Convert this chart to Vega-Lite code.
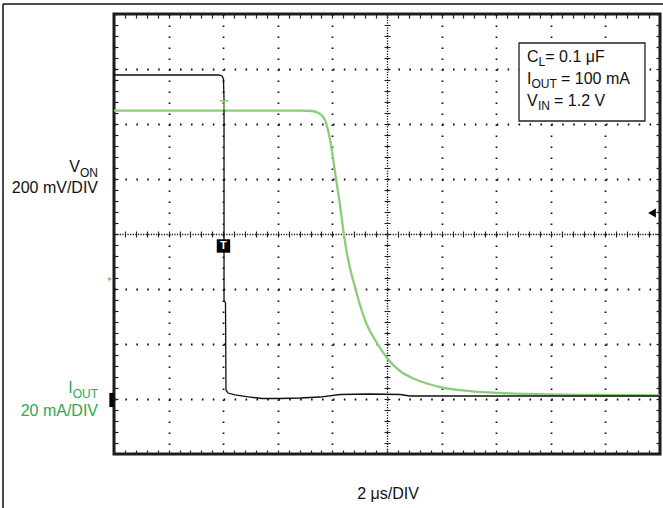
{
  "$schema": "https://vega.github.io/schema/vega-lite/v6.json",
  "width": 546,
  "height": 440,
  "autosize": {"type": "none"},
  "padding": {"left": 114, "top": 14, "right": 3, "bottom": 54},
  "background": "white",
  "config": {
    "view": {"stroke": "#1c1c1c", "strokeWidth": 3},
    "text": {"font": "Liberation Sans"}
  },
  "datasets": {
    "v_on": [
      {"t": 0, "v": 6.891}, {"t": 1.923, "v": 6.891}, {"t": 1.978, "v": 6.873}, {"t": 2.005, "v": 6.818},
      {"t": 2.015, "v": 6.436}, {"t": 2.015, "v": 2.8}, {"t": 2.042, "v": 2.745}, {"t": 2.051, "v": 1.164},
      {"t": 2.088, "v": 1.109}, {"t": 2.216, "v": 1.073}, {"t": 2.491, "v": 1.036}, {"t": 2.711, "v": 1.009},
      {"t": 3.04, "v": 1.009}, {"t": 3.407, "v": 1.018}, {"t": 3.773, "v": 1.036}, {"t": 4.139, "v": 1.082},
      {"t": 4.689, "v": 1.091}, {"t": 5.238, "v": 1.082}, {"t": 5.421, "v": 1.055}, {"t": 6.337, "v": 1.055},
      {"t": 7.436, "v": 1.055}, {"t": 8.535, "v": 1.055}, {"t": 10, "v": 1.055}
    ],
    "i_out": [
      {"t": 0, "v": 6.245}, {"t": 3.407, "v": 6.245}, {"t": 3.626, "v": 6.236}, {"t": 3.773, "v": 6.182},
      {"t": 3.864, "v": 6.073}, {"t": 3.919, "v": 5.891}, {"t": 3.974, "v": 5.618}, {"t": 4.029, "v": 5.255},
      {"t": 4.084, "v": 4.891}, {"t": 4.139, "v": 4.527}, {"t": 4.194, "v": 4.109}, {"t": 4.249, "v": 3.745},
      {"t": 4.322, "v": 3.382}, {"t": 4.414, "v": 3.036}, {"t": 4.505, "v": 2.709}, {"t": 4.634, "v": 2.345},
      {"t": 4.817, "v": 2.018}, {"t": 5.0, "v": 1.745}, {"t": 5.238, "v": 1.509}, {"t": 5.549, "v": 1.345},
      {"t": 5.971, "v": 1.218}, {"t": 6.52, "v": 1.145}, {"t": 7.07, "v": 1.109}, {"t": 7.985, "v": 1.082},
      {"t": 8.901, "v": 1.073}, {"t": 10, "v": 1.064}
    ],
    "txt": [
      {"x": 7.564, "y": 7.127, "s": "C", "k": "Lb", "c": "k"},
      {"x": 7.777, "y": 7.055, "s": "L", "k": "Ls", "c": "k"},
      {"x": 7.899, "y": 7.127, "s": "= 0.1 μF", "k": "Lb", "c": "k"},
      {"x": 7.564, "y": 6.727, "s": "I", "k": "Lb", "c": "k"},
      {"x": 7.646, "y": 6.655, "s": "OUT", "k": "Ls", "c": "k"},
      {"x": 8.187, "y": 6.727, "s": "= 100 mA", "k": "Lb", "c": "k"},
      {"x": 7.564, "y": 6.327, "s": "V", "k": "Lb", "c": "k"},
      {"x": 7.764, "y": 6.255, "s": "IN", "k": "Ls", "c": "k"},
      {"x": 8.06, "y": 6.327, "s": "= 1.2 V", "k": "Lb", "c": "k"},
      {"x": -0.623, "y": 5.127, "s": "V", "k": "Rb", "c": "k"},
      {"x": -0.293, "y": 5.045, "s": "ON", "k": "Rs", "c": "k"},
      {"x": -0.293, "y": 4.745, "s": "200 mV/DIV", "k": "Rb", "c": "k"},
      {"x": -0.758, "y": 1.109, "s": "I", "k": "Rb", "c": "g"},
      {"x": -0.293, "y": 1.027, "s": "OUT", "k": "Rs", "c": "g"},
      {"x": -0.293, "y": 0.691, "s": "20 mA/DIV", "k": "Rb", "c": "g"},
      {"x": 5.018, "y": -0.818, "s": "2 μs/DIV", "k": "C", "c": "k"}
    ]
  },
  "resolve": {"axis": {"x": "independent", "y": "independent"}},
  "layer": [
    {
      "data": {"name": "v_on"},
      "mark": {"type": "line", "opacity": 0},
      "encoding": {
        "x": {"field": "t", "type": "quantitative", "scale": {"domain": [0, 10], "nice": false, "zero": false},
              "axis": {"orient": "bottom", "values": [1, 2, 3, 4, 6, 7, 8, 9], "grid": true, "gridDash": [1.6, 9.4], "gridColor": "#111", "gridWidth": 1.8, "ticks": false, "labels": false, "domain": false, "title": null}},
        "y": {"field": "v", "type": "quantitative", "scale": {"domain": [0, 8], "nice": false, "zero": false},
              "axis": {"orient": "left", "values": [1, 2, 3, 5, 6, 7], "grid": true, "gridDash": [1.6, 9.32], "gridColor": "#111", "gridWidth": 1.8, "ticks": false, "labels": false, "domain": false, "title": null}}
      }
    },
    {
      "data": {"name": "v_on"},
      "mark": {"type": "line", "opacity": 0},
      "encoding": {
        "x": {"field": "t", "type": "quantitative", "scale": {"domain": [0, 10], "nice": false, "zero": false},
              "axis": {"orient": "bottom", "values": [5], "grid": true, "gridDash": [1.2, 1.4], "gridColor": "#111", "gridWidth": 1.3, "ticks": false, "labels": false, "domain": false, "title": null}},
        "y": {"field": "v", "type": "quantitative", "scale": {"domain": [0, 8], "nice": false, "zero": false},
              "axis": {"orient": "left", "values": [4], "grid": true, "gridDash": [1.2, 1.4], "gridColor": "#111", "gridWidth": 1.3, "ticks": false, "labels": false, "domain": false, "title": null}}
      }
    },
    {
      "data": {"name": "v_on"},
      "mark": {"type": "line", "opacity": 0},
      "encoding": {
        "x": {"field": "t", "type": "quantitative", "scale": {"domain": [0, 10], "nice": false, "zero": false},
              "axis": {"orient": "bottom", "values": [0,0.2,0.4,0.6,0.8,1,1.2,1.4,1.6,1.8,2,2.2,2.4,2.6,2.8,3,3.2,3.4,3.6,3.8,4,4.2,4.4,4.6,4.8,5,5.2,5.4,5.6,5.8,6,6.2,6.4,6.6,6.8,7,7.2,7.4,7.6,7.8,8,8.2,8.4,8.6,8.8,9,9.2,9.4,9.6,9.8,10], "grid": false, "ticks": true, "tickSize": -4, "tickColor": "#222", "tickWidth": 1.2, "labels": false, "domain": false, "title": null}},
        "y": {"field": "v", "type": "quantitative", "scale": {"domain": [0, 8], "nice": false, "zero": false},
              "axis": {"orient": "left", "values": [0,0.2,0.4,0.6,0.8,1,1.2,1.4,1.6,1.8,2,2.2,2.4,2.6,2.8,3,3.2,3.4,3.6,3.8,4,4.2,4.4,4.6,4.8,5,5.2,5.4,5.6,5.8,6,6.2,6.4,6.6,6.8,7,7.2,7.4,7.6,7.8,8], "grid": false, "ticks": true, "tickSize": -4, "tickColor": "#222", "tickWidth": 1.2, "labels": false, "domain": false, "title": null}}
      }
    },
    {
      "data": {"name": "v_on"},
      "mark": {"type": "line", "opacity": 0},
      "encoding": {
        "x": {"field": "t", "type": "quantitative", "scale": {"domain": [0, 10], "nice": false, "zero": false},
              "axis": {"orient": "top", "values": [0,0.2,0.4,0.6,0.8,1,1.2,1.4,1.6,1.8,2,2.2,2.4,2.6,2.8,3,3.2,3.4,3.6,3.8,4,4.2,4.4,4.6,4.8,5,5.2,5.4,5.6,5.8,6,6.2,6.4,6.6,6.8,7,7.2,7.4,7.6,7.8,8,8.2,8.4,8.6,8.8,9,9.2,9.4,9.6,9.8,10], "grid": false, "ticks": true, "tickSize": -4, "tickColor": "#222", "tickWidth": 1.2, "labels": false, "domain": false, "title": null}},
        "y": {"field": "v", "type": "quantitative", "scale": {"domain": [0, 8], "nice": false, "zero": false},
              "axis": {"orient": "right", "values": [0,0.2,0.4,0.6,0.8,1,1.2,1.4,1.6,1.8,2,2.2,2.4,2.6,2.8,3,3.2,3.4,3.6,3.8,4,4.2,4.4,4.6,4.8,5,5.2,5.4,5.6,5.8,6,6.2,6.4,6.6,6.8,7,7.2,7.4,7.6,7.8,8], "grid": false, "ticks": true, "tickSize": -4, "tickColor": "#222", "tickWidth": 1.2, "labels": false, "domain": false, "title": null}}
      }
    },
    {
      "data": {"name": "v_on"},
      "mark": {"type": "line", "opacity": 0},
      "encoding": {
        "x": {"field": "t", "type": "quantitative", "scale": {"domain": [0, 10], "nice": false, "zero": false},
              "axis": {"orient": "bottom", "offset": -223, "values": [0,0.2,0.4,0.6,0.8,1,1.2,1.4,1.6,1.8,2,2.2,2.4,2.6,2.8,3,3.2,3.4,3.6,3.8,4,4.2,4.4,4.6,4.8,5,5.2,5.4,5.6,5.8,6,6.2,6.4,6.6,6.8,7,7.2,7.4,7.6,7.8,8,8.2,8.4,8.6,8.8,9,9.2,9.4,9.6,9.8,10], "grid": false, "ticks": true, "tickSize": 6, "tickColor": "#222", "tickWidth": 1.1, "labels": false, "domain": false, "title": null}},
        "y": {"field": "v", "type": "quantitative", "scale": {"domain": [0, 8], "nice": false, "zero": false},
              "axis": {"orient": "left", "offset": -276, "values": [0,0.2,0.4,0.6,0.8,1,1.2,1.4,1.6,1.8,2,2.2,2.4,2.6,2.8,3,3.2,3.4,3.6,3.8,4,4.2,4.4,4.6,4.8,5,5.2,5.4,5.6,5.8,6,6.2,6.4,6.6,6.8,7,7.2,7.4,7.6,7.8,8], "grid": false, "ticks": true, "tickSize": 6, "tickColor": "#222", "tickWidth": 1.1, "labels": false, "domain": false, "title": null}}
      }
    },
    {
      "data": {"values": [{}]},
      "mark": {"type": "rect", "fill": "white", "stroke": "#222", "strokeWidth": 1.3},
      "encoding": {
        "x": {"datum": 7.418, "type": "quantitative", "scale": {"domain": [0, 10], "nice": false, "zero": false}, "axis": null},
        "x2": {"datum": 9.725},
        "y": {"datum": 7.473, "type": "quantitative", "scale": {"domain": [0, 8], "nice": false, "zero": false}, "axis": null},
        "y2": {"datum": 6.055}
      }
    },
    {
      "data": {"name": "i_out"},
      "mark": {"type": "line", "color": "#8ccd7c", "strokeWidth": 2.3, "interpolate": "monotone"},
      "encoding": {
        "x": {"field": "t", "type": "quantitative", "scale": {"domain": [0, 10], "nice": false, "zero": false}, "axis": null},
        "y": {"field": "v", "type": "quantitative", "scale": {"domain": [0, 8], "nice": false, "zero": false}, "axis": null}
      }
    },
    {
      "data": {"name": "v_on"},
      "mark": {"type": "line", "color": "#111111", "strokeWidth": 1.3},
      "encoding": {
        "x": {"field": "t", "type": "quantitative", "scale": {"domain": [0, 10], "nice": false, "zero": false}, "axis": null},
        "y": {"field": "v", "type": "quantitative", "scale": {"domain": [0, 8], "nice": false, "zero": false}, "axis": null}
      }
    },
    {
      "data": {"values": [{"x": 2.005, "y": 3.782}]},
      "mark": {"type": "point", "shape": "square", "filled": true, "size": 180, "color": "#000", "opacity": 1},
      "encoding": {
        "x": {"field": "x", "type": "quantitative", "scale": {"domain": [0, 10], "nice": false, "zero": false}, "axis": null},
        "y": {"field": "y", "type": "quantitative", "scale": {"domain": [0, 8], "nice": false, "zero": false}, "axis": null}
      }
    },
    {
      "data": {"values": [{"x": 2.005, "y": 3.782, "s": "T"}]},
      "mark": {"type": "text", "color": "white", "fontSize": 11, "fontWeight": "bold", "align": "center", "baseline": "middle", "font": "Liberation Sans"},
      "encoding": {
        "x": {"field": "x", "type": "quantitative", "scale": {"domain": [0, 10], "nice": false, "zero": false}, "axis": null},
        "y": {"field": "y", "type": "quantitative", "scale": {"domain": [0, 8], "nice": false, "zero": false}, "axis": null},
        "text": {"field": "s"}
      }
    },
    {
      "data": {"values": [{"x": 2.015, "y": 6.255, "s": "T"}]},
      "mark": {"type": "text", "color": "#7cc46a", "fontSize": 15, "align": "center", "baseline": "alphabetic", "font": "Liberation Sans"},
      "encoding": {
        "x": {"field": "x", "type": "quantitative", "scale": {"domain": [0, 10], "nice": false, "zero": false}, "axis": null},
        "y": {"field": "y", "type": "quantitative", "scale": {"domain": [0, 8], "nice": false, "zero": false}, "axis": null},
        "text": {"field": "s"}
      }
    },
    {
      "data": {"values": [{"x": 9.853, "y": 4.382}]},
      "mark": {"type": "point", "shape": "triangle-left", "filled": true, "size": 80, "color": "#000", "opacity": 1},
      "encoding": {
        "x": {"field": "x", "type": "quantitative", "scale": {"domain": [0, 10], "nice": false, "zero": false}, "axis": null},
        "y": {"field": "y", "type": "quantitative", "scale": {"domain": [0, 8], "nice": false, "zero": false}, "axis": null}
      }
    },
    {
      "data": {"values": [{"x": -0.046, "y": 0.982}]},
      "mark": {"type": "point", "shape": "M-0.3,-1L0.3,-1L0.3,1L-0.3,1Z", "filled": true, "size": 200, "color": "#000", "opacity": 1},
      "encoding": {
        "x": {"field": "x", "type": "quantitative", "scale": {"domain": [0, 10], "nice": false, "zero": false}, "axis": null},
        "y": {"field": "y", "type": "quantitative", "scale": {"domain": [0, 8], "nice": false, "zero": false}, "axis": null}
      }
    },
    {
      "data": {"values": [{"x": -0.07, "y": 3.18}]},
      "mark": {"type": "point", "shape": "triangle-right", "filled": true, "size": 20, "color": "#7cc46a", "opacity": 1},
      "encoding": {
        "x": {"field": "x", "type": "quantitative", "scale": {"domain": [0, 10], "nice": false, "zero": false}, "axis": null},
        "y": {"field": "y", "type": "quantitative", "scale": {"domain": [0, 8], "nice": false, "zero": false}, "axis": null}
      }
    },
    {
      "data": {"values": [{}]},
      "mark": {"type": "rule", "color": "#111", "strokeWidth": 1.5},
      "encoding": {
        "x": {"datum": -2.033, "type": "quantitative", "scale": {"domain": [0, 10], "nice": false, "zero": false}, "axis": null},
        "x2": {"datum": 10.1},
        "y": {"datum": 8.182, "type": "quantitative", "scale": {"domain": [0, 8], "nice": false, "zero": false}, "axis": null}
      }
    },
    {
      "data": {"values": [{}]},
      "mark": {"type": "rule", "color": "#111", "strokeWidth": 1.5},
      "encoding": {
        "x": {"datum": -2.033, "type": "quantitative", "scale": {"domain": [0, 10], "nice": false, "zero": false}, "axis": null},
        "y": {"datum": 8.182, "type": "quantitative", "scale": {"domain": [0, 8], "nice": false, "zero": false}, "axis": null},
        "y2": {"datum": -1.0}
      }
    },
    {
      "data": {"name": "txt"},
      "transform": [{"filter": "datum.k === 'Lb'"}],
      "mark": {"type": "text", "fontSize": 16, "align": "left", "baseline": "alphabetic", "font": "Liberation Sans"},
      "encoding": {
        "x": {"field": "x", "type": "quantitative", "scale": {"domain": [0, 10], "nice": false, "zero": false}, "axis": null},
        "y": {"field": "y", "type": "quantitative", "scale": {"domain": [0, 8], "nice": false, "zero": false}, "axis": null},
        "text": {"field": "s"},
        "color": {"field": "c", "type": "nominal", "scale": {"domain": ["k", "g"], "range": ["#111111", "#2ea84f"]}, "legend": null}
      }
    },
    {
      "data": {"name": "txt"},
      "transform": [{"filter": "datum.k === 'Ls'"}],
      "mark": {"type": "text", "fontSize": 12, "align": "left", "baseline": "alphabetic", "font": "Liberation Sans"},
      "encoding": {
        "x": {"field": "x", "type": "quantitative", "scale": {"domain": [0, 10], "nice": false, "zero": false}, "axis": null},
        "y": {"field": "y", "type": "quantitative", "scale": {"domain": [0, 8], "nice": false, "zero": false}, "axis": null},
        "text": {"field": "s"},
        "color": {"field": "c", "type": "nominal", "scale": {"domain": ["k", "g"], "range": ["#111111", "#2ea84f"]}, "legend": null}
      }
    },
    {
      "data": {"name": "txt"},
      "transform": [{"filter": "datum.k === 'Rb'"}],
      "mark": {"type": "text", "fontSize": 16, "align": "right", "baseline": "alphabetic", "font": "Liberation Sans"},
      "encoding": {
        "x": {"field": "x", "type": "quantitative", "scale": {"domain": [0, 10], "nice": false, "zero": false}, "axis": null},
        "y": {"field": "y", "type": "quantitative", "scale": {"domain": [0, 8], "nice": false, "zero": false}, "axis": null},
        "text": {"field": "s"},
        "color": {"field": "c", "type": "nominal", "scale": {"domain": ["k", "g"], "range": ["#111111", "#2ea84f"]}, "legend": null}
      }
    },
    {
      "data": {"name": "txt"},
      "transform": [{"filter": "datum.k === 'Rs'"}],
      "mark": {"type": "text", "fontSize": 12, "align": "right", "baseline": "alphabetic", "font": "Liberation Sans"},
      "encoding": {
        "x": {"field": "x", "type": "quantitative", "scale": {"domain": [0, 10], "nice": false, "zero": false}, "axis": null},
        "y": {"field": "y", "type": "quantitative", "scale": {"domain": [0, 8], "nice": false, "zero": false}, "axis": null},
        "text": {"field": "s"},
        "color": {"field": "c", "type": "nominal", "scale": {"domain": ["k", "g"], "range": ["#111111", "#2ea84f"]}, "legend": null}
      }
    },
    {
      "data": {"name": "txt"},
      "transform": [{"filter": "datum.k === 'C'"}],
      "mark": {"type": "text", "fontSize": 16, "align": "center", "baseline": "alphabetic", "font": "Liberation Sans"},
      "encoding": {
        "x": {"field": "x", "type": "quantitative", "scale": {"domain": [0, 10], "nice": false, "zero": false}, "axis": null},
        "y": {"field": "y", "type": "quantitative", "scale": {"domain": [0, 8], "nice": false, "zero": false}, "axis": null},
        "text": {"field": "s"},
        "color": {"field": "c", "type": "nominal", "scale": {"domain": ["k", "g"], "range": ["#111111", "#2ea84f"]}, "legend": null}
      }
    }
  ]
}
